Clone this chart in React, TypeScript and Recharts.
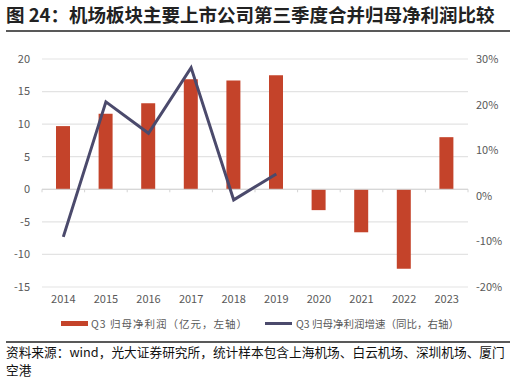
import { Bar, CartesianGrid, ComposedChart, Line, ReferenceLine, XAxis, YAxis } from "recharts";

const YEARS = ["2014", "2015", "2016", "2017", "2018", "2019", "2020", "2021", "2022", "2023"];
// Q3 归母净利润 (亿元)
const PROFIT = [9.7, 11.6, 13.2, 16.9, 16.7, 17.5, -3.2, -6.6, -12.2, 8.0];
// 同比增速 (%)
const GROWTH: (number | null)[] = [-9.0, 20.6, 13.7, 28.1, -0.9, 4.8, null, null, null, null];
const LEFT_TICKS = [-15, -10, -5, 0, 5, 10, 15, 20];
const RIGHT_TICKS = [-20, -10, 0, 10, 20, 30];

const BAR_COLOR = "#c4432a";
const LINE_COLOR = "#4b4a6c";
const GRID = "#e3e3e3";
const TICK = { fontSize: 11, fill: "#595959" };
const FONT = "'Noto Sans CJK SC', 'Noto Sans', sans-serif";

const data = YEARS.map((year, i) => ({ year, profit: PROFIT[i], growth: GROWTH[i] }));

function ZeroLine(props: any) {
  const { x1, x2, y1 } = props;
  const n = YEARS.length;
  const step = (x2 - x1) / n;
  return (
    <g>
      <line x1={x1} x2={x2} y1={y1} y2={y1} stroke="#d4d4d4" strokeWidth={1} />
      {Array.from({ length: n + 1 }, (_, i) => (
        <line key={i} x1={x1 + i * step} x2={x1 + i * step} y1={y1} y2={y1 + 3} stroke="#d4d4d4" />
      ))}
    </g>
  );
}

export default function App() {
  return (
    <div
      style={{
        position: "absolute",
        left: 0,
        top: 0,
        width: 516,
        height: 381,
        background: "#fff",
        fontFamily: FONT,
        overflow: "hidden",
      }}
    >
      <div
        style={{
          position: "absolute",
          left: 6,
          top: 2,
          fontSize: 18.5,
          fontWeight: 700,
          color: "#222",
          whiteSpace: "nowrap",
          lineHeight: "24px",
        }}
      >
        图 24：机场板块主要上市公司第三季度合并归母净利润比较
      </div>
      <div style={{ position: "absolute", left: 6, top: 30, width: 504, height: 1.5, background: "#595959" }} />

      <div style={{ position: "absolute", left: 0, top: 0 }}>
        <ComposedChart
          width={516}
          height={310}
          data={data}
          margin={{ top: 59, right: 0, bottom: 3, left: 0 }}
          barSize={14}
        >
          <CartesianGrid yAxisId="left" vertical={false} stroke={GRID} strokeWidth={1.2} />
          <XAxis
            dataKey="year"
            height={20}
            axisLine={false}
            tickLine={false}
            tick={TICK}
            interval={0}
          />
          <YAxis
            yAxisId="left"
            width={42}
            domain={[-15, 20]}
            ticks={LEFT_TICKS}
            axisLine={false}
            tickLine={false}
            tickMargin={6}
            tick={TICK}
            interval={0}
          />
          <YAxis
            yAxisId="right"
            orientation="right"
            width={48}
            domain={[-20, 30]}
            ticks={RIGHT_TICKS}
            axisLine={false}
            tickLine={false}
            tick={TICK}
            interval={0}
            tickFormatter={(v: number) => `${v}%`}
          />
          <ReferenceLine yAxisId="left" y={0} shape={ZeroLine} />
          <Bar yAxisId="left" dataKey="profit" fill={BAR_COLOR} isAnimationActive={false} />
          <Line
            yAxisId="right"
            dataKey="growth"
            stroke={LINE_COLOR}
            strokeWidth={3}
            dot={false}
            activeDot={false}
            connectNulls={false}
            type="linear"
            isAnimationActive={false}
          />
        </ComposedChart>
      </div>

      <div
        style={{
          position: "absolute",
          top: 316,
          left: 0,
          width: 516,
          fontSize: 10.5,
          color: "#595959",
          whiteSpace: "nowrap",
        }}
      >
        <div style={{ position: "absolute", left: 61, top: 5, width: 27, height: 5, background: BAR_COLOR }} />
        <span style={{ position: "absolute", left: 91, top: 0, lineHeight: "16px", letterSpacing: 1 }}>
          Q3 归母净利润（亿元，左轴）
        </span>
        <div style={{ position: "absolute", left: 265, top: 6, width: 27, height: 3, background: LINE_COLOR }} />
        <span style={{ position: "absolute", left: 296, top: 0, lineHeight: "16px" }}>
          Q3 归母净利润增速（同比，右轴）
        </span>
      </div>

      <div style={{ position: "absolute", left: 6, top: 341, width: 504, height: 1.5, background: "#595959" }} />
      <div
        style={{
          position: "absolute",
          left: 6,
          top: 343,
          fontSize: 12.7,
          lineHeight: "18px",
          color: "#111",
          whiteSpace: "nowrap",
        }}
      >
        资料来源：wind，光大证券研究所，统计样本包含上海机场、白云机场、深圳机场、厦门
        <br />
        空港
      </div>
    </div>
  );
}
